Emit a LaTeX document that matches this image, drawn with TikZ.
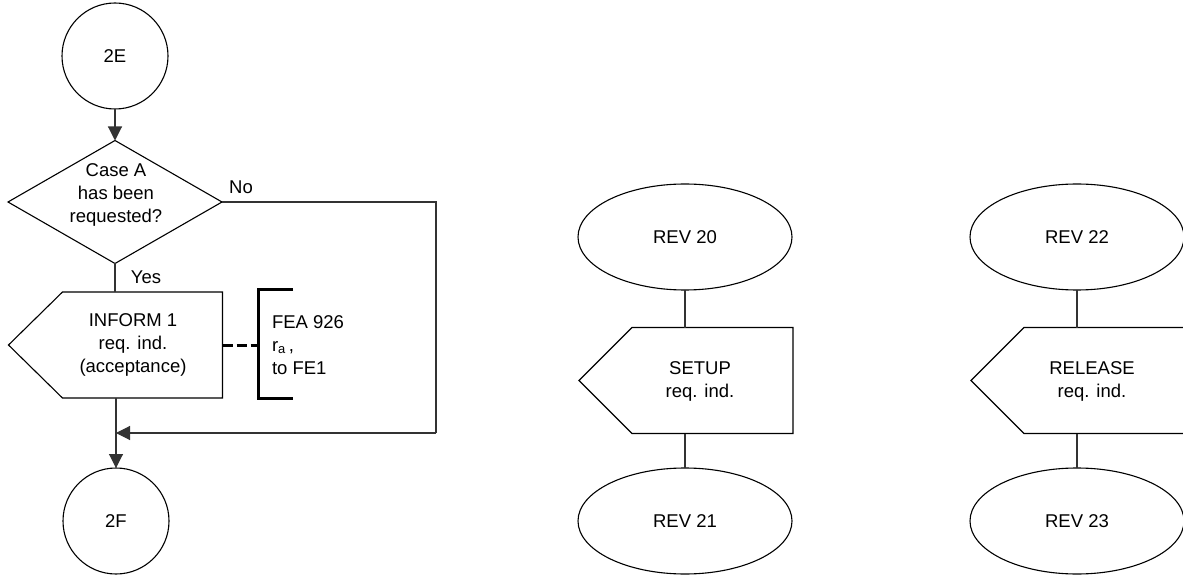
\documentclass[tikz,border=0pt]{standalone}
\usepackage{fontspec}
\setmainfont{Liberation Sans}
\usetikzlibrary{shapes.geometric,arrows.meta,calc}
\begin{document}
\begin{tikzpicture}[x=1pt,y=-1pt,
  font=\fontsize{18.5}{23}\selectfont,
  every node/.style={inner sep=0pt, outer sep=0pt},
  thin line/.style={line width=1.1pt},
  connector/.style={thin line, draw=black!80},
  tip/.style={-{Triangle[length=14pt,width=14pt]}},
  conncircle/.style={circle, draw, thin line, minimum size=106pt},
  stateoval/.style={ellipse, draw, thin line, minimum width=214pt, minimum height=106pt},
  decision/.style={diamond, draw, thin line, minimum width=214pt, minimum height=123pt},
  sigbox/.style={rectangle, minimum width=214pt, minimum height=106pt},
  caption/.style={align=center},
  heavy/.style={line width=3pt}]
\useasboundingbox (0,0) rectangle (1183,577);
\clip (0,0) rectangle (1183,577);

% ---------- left column ----------
\node[conncircle] (e2) at (115,56) {};
\node (e2t) at (115,56) {2E};

\node[decision] (dia) at (115,202) {};
\node[caption] (diat) at (116,195) {Case A\\has been\\requested?};
\node (no) at (241,187) {No};
\node (yes) at (146,277) {Yes};

\node[sigbox] (inf) at (115.5,345) {};
\draw[thin line] (inf.north east) -- (inf.south east)
  -- ($(inf.south west)+(54,0)$) -- (inf.west)
  -- ($(inf.north west)+(54,0)$) -- cycle;
\node[caption] (inft) at (133,345) {INFORM 1\\req. ind.\\(acceptance)};

% comment bracket
\node[align=left, anchor=west] (fea) at (272,345) {FEA 926\\r\textsubscript{a}\,,\\to FE1};
\coordinate (brk) at (258,345);
\draw[heavy] ($(brk)+(35,-55)$) -- ($(brk)+(0,-55)$) -- ($(brk)+(0,53)$) -- ($(brk)+(35,53)$);
\draw[heavy, dash pattern=on 10pt off 4pt] (inf.east) -- (brk);

\node[conncircle] (f2) at (116,521) {};
\node (f2t) at (116,521) {2F};

\coordinate (nocorner) at (436,202);
\coordinate (mergecorner) at (436,433);
\coordinate (merge) at (116,433);

\draw[connector, tip] (e2) -- (dia.north);
\draw[connector] (dia.south) -- (dia.south |- inf.north);
\draw[connector, tip] (inf.south -| f2) -- (f2.north);
\draw[connector] (dia.east) -- (nocorner) -- (mergecorner);
\draw[connector, tip] (mergecorner) -- (merge);

% ---------- middle column ----------
\node[stateoval] (r20) at (685,237) {};
\node (r20t) at (685,237) {REV 20};
\node[sigbox] (s1) at (686,380.5) {};
\draw[thin line] (s1.north east) -- (s1.south east)
  -- ($(s1.south west)+(53,0)$) -- (s1.west)
  -- ($(s1.north west)+(53,0)$) -- cycle;
\node[caption] (s1t) at (700,381) {SETUP\\req. ind.};
\node[stateoval] (r21) at (685,521) {};
\node (r21t) at (685,521) {REV 21};
\draw[connector] (r20) -- (r20 |- s1.north);
\draw[connector] (r21 |- s1.south) -- (r21);

% ---------- right column ----------
\node[stateoval] (r22) at (1077,237) {};
\node (r22t) at (1077,237) {REV 22};
\node[sigbox] (s2) at (1078,380.5) {};
\draw[thin line] (s2.north east) -- (s2.south east)
  -- ($(s2.south west)+(53,0)$) -- (s2.west)
  -- ($(s2.north west)+(53,0)$) -- cycle;
\node[caption] (s2t) at (1092,381) {RELEASE\\req. ind.};
\node[stateoval] (r23) at (1077,521) {};
\node (r23t) at (1077,521) {REV 23};
\draw[connector] (r22) -- (r22 |- s2.north);
\draw[connector] (r23 |- s2.south) -- (r23);
\end{tikzpicture}
\end{document}
